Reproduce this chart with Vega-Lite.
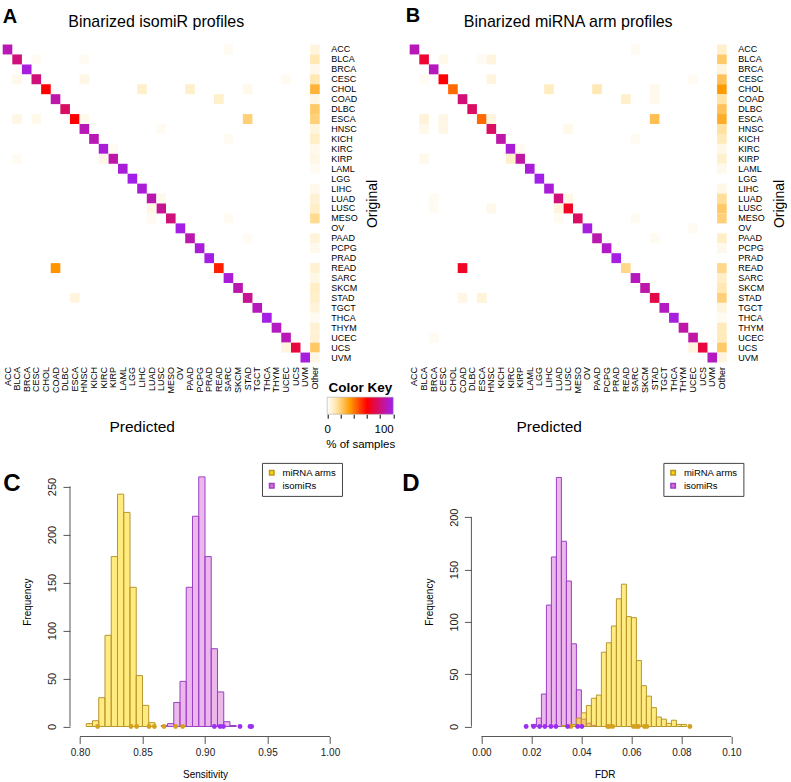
{
"$schema":"https://vega.github.io/schema/vega-lite/v6.json",
"background":"white",
"padding":{"left":2.7,"top":5.5,"right":0,"bottom":0},
"config":{"view":{"stroke":null},"font":"Liberation Sans","axis":{"grid":false,"labelColor":"#000","titleColor":"#000","titleFontWeight":"normal"},"title":{"color":"#000"}},
"title":{"text":"A","anchor":"start","frame":"bounds","fontSize":20,"fontWeight":"bold","dy":25},
"columns":3,
"align":"each",
"bounds":"flush",
"spacing":{"row":34.7,"column":5},
"resolve":{"scale":{"fill":"independent","stroke":"independent"},"legend":{"fill":"independent","stroke":"independent"}},
"datasets":{
"blank":[{"k":1}],
"key":[{"lo":0,"hi":100}],
"heatA":[
{"o":"ACC","p":"ACC","v":90},{"o":"ACC","p":"SARC","v":2},{"o":"ACC","p":"Other","v":5},
{"o":"BLCA","p":"BLCA","v":80},{"o":"BLCA","p":"CESC","v":2},{"o":"BLCA","p":"HNSC","v":2},{"o":"BLCA","p":"Other","v":12},
{"o":"BRCA","p":"BRCA","v":97},{"o":"BRCA","p":"Other","v":3},
{"o":"CESC","p":"CESC","v":80},{"o":"CESC","p":"BLCA","v":3},{"o":"CESC","p":"HNSC","v":4},{"o":"CESC","p":"UCEC","v":2},{"o":"CESC","p":"Other","v":12},
{"o":"CHOL","p":"CHOL","v":60},{"o":"CHOL","p":"LIHC","v":8},{"o":"CHOL","p":"PAAD","v":8},{"o":"CHOL","p":"STAD","v":3},{"o":"CHOL","p":"Other","v":28},
{"o":"COAD","p":"COAD","v":88},{"o":"COAD","p":"READ","v":8},{"o":"COAD","p":"Other","v":4},
{"o":"DLBC","p":"DLBC","v":76},{"o":"DLBC","p":"Other","v":22},
{"o":"ESCA","p":"ESCA","v":60},{"o":"ESCA","p":"BLCA","v":4},{"o":"ESCA","p":"CESC","v":3},{"o":"ESCA","p":"HNSC","v":3},{"o":"ESCA","p":"STAD","v":20},{"o":"ESCA","p":"Other","v":20},
{"o":"HNSC","p":"HNSC","v":90},{"o":"HNSC","p":"LUSC","v":2},{"o":"HNSC","p":"Other","v":5},
{"o":"KICH","p":"KICH","v":90},{"o":"KICH","p":"SARC","v":2},{"o":"KICH","p":"Other","v":9},
{"o":"KIRC","p":"KIRC","v":96},{"o":"KIRC","p":"KIRP","v":2},{"o":"KIRC","p":"Other","v":3},
{"o":"KIRP","p":"KIRP","v":88},{"o":"KIRP","p":"BLCA","v":2},{"o":"KIRP","p":"KIRC","v":4},{"o":"KIRP","p":"Other","v":4},
{"o":"LAML","p":"LAML","v":96},{"o":"LAML","p":"Other","v":2},
{"o":"LGG","p":"LGG","v":99},
{"o":"LIHC","p":"LIHC","v":96},{"o":"LIHC","p":"Other","v":3},
{"o":"LUAD","p":"LUAD","v":89},{"o":"LUAD","p":"LUSC","v":3},{"o":"LUAD","p":"Other","v":7},
{"o":"LUSC","p":"LUSC","v":84},{"o":"LUSC","p":"LUAD","v":4},{"o":"LUSC","p":"Other","v":9},
{"o":"MESO","p":"MESO","v":80},{"o":"MESO","p":"LUAD","v":2},{"o":"MESO","p":"SARC","v":2},{"o":"MESO","p":"Other","v":17},
{"o":"OV","p":"OV","v":98},
{"o":"PAAD","p":"PAAD","v":89},{"o":"PAAD","p":"STAD","v":2},{"o":"PAAD","p":"Other","v":6},
{"o":"PCPG","p":"PCPG","v":96},{"o":"PCPG","p":"Other","v":3},
{"o":"PRAD","p":"PRAD","v":98},
{"o":"READ","p":"READ","v":55},{"o":"READ","p":"COAD","v":36},{"o":"READ","p":"Other","v":7},
{"o":"SARC","p":"SARC","v":96},{"o":"SARC","p":"Other","v":4},
{"o":"SKCM","p":"SKCM","v":89},{"o":"SKCM","p":"Other","v":9},
{"o":"STAD","p":"STAD","v":84},{"o":"STAD","p":"ESCA","v":5},{"o":"STAD","p":"Other","v":8},
{"o":"TGCT","p":"TGCT","v":91},{"o":"TGCT","p":"Other","v":6},
{"o":"THCA","p":"THCA","v":98},{"o":"THCA","p":"Other","v":2},
{"o":"THYM","p":"THYM","v":92},{"o":"THYM","p":"Other","v":7},
{"o":"UCEC","p":"UCEC","v":90},{"o":"UCEC","p":"Other","v":7},
{"o":"UCS","p":"UCS","v":70},{"o":"UCS","p":"UCEC","v":5},{"o":"UCS","p":"Other","v":22},
{"o":"UVM","p":"UVM","v":97},{"o":"UVM","p":"Other","v":4}
],
"heatB":[
{"o":"ACC","p":"ACC","v":90},{"o":"ACC","p":"SARC","v":2},{"o":"ACC","p":"Other","v":8},
{"o":"BLCA","p":"BLCA","v":68},{"o":"BLCA","p":"CESC","v":3},{"o":"BLCA","p":"ESCA","v":2},{"o":"BLCA","p":"HNSC","v":5},{"o":"BLCA","p":"Other","v":22},
{"o":"BRCA","p":"BRCA","v":91},{"o":"BRCA","p":"Other","v":5},
{"o":"CESC","p":"CESC","v":61},{"o":"CESC","p":"BLCA","v":2},{"o":"CESC","p":"HNSC","v":5},{"o":"CESC","p":"UCEC","v":2},{"o":"CESC","p":"Other","v":24},
{"o":"CHOL","p":"CHOL","v":43},{"o":"CHOL","p":"LIHC","v":10},{"o":"CHOL","p":"PAAD","v":12},{"o":"CHOL","p":"STAD","v":3},{"o":"CHOL","p":"Other","v":35},
{"o":"COAD","p":"COAD","v":79},{"o":"COAD","p":"READ","v":8},{"o":"COAD","p":"STAD","v":3},{"o":"COAD","p":"Other","v":14},
{"o":"DLBC","p":"DLBC","v":76},{"o":"DLBC","p":"Other","v":24},
{"o":"ESCA","p":"ESCA","v":43},{"o":"ESCA","p":"BLCA","v":6},{"o":"ESCA","p":"CESC","v":4},{"o":"ESCA","p":"HNSC","v":5},{"o":"ESCA","p":"STAD","v":25},{"o":"ESCA","p":"Other","v":30},
{"o":"HNSC","p":"HNSC","v":76},{"o":"HNSC","p":"BLCA","v":3},{"o":"HNSC","p":"CESC","v":4},{"o":"HNSC","p":"LUSC","v":3},{"o":"HNSC","p":"Other","v":15},
{"o":"KICH","p":"KICH","v":88},{"o":"KICH","p":"SARC","v":2},{"o":"KICH","p":"Other","v":11},
{"o":"KIRC","p":"KIRC","v":96},{"o":"KIRC","p":"KIRP","v":2},{"o":"KIRC","p":"Other","v":4},
{"o":"KIRP","p":"KIRP","v":87},{"o":"KIRP","p":"BLCA","v":3},{"o":"KIRP","p":"KIRC","v":8},{"o":"KIRP","p":"Other","v":8},
{"o":"LAML","p":"LAML","v":96},{"o":"LAML","p":"Other","v":3},
{"o":"LGG","p":"LGG","v":99},
{"o":"LIHC","p":"LIHC","v":96},{"o":"LIHC","p":"Other","v":4},
{"o":"LUAD","p":"LUAD","v":80},{"o":"LUAD","p":"BRCA","v":2},{"o":"LUAD","p":"LUSC","v":4},{"o":"LUAD","p":"Other","v":16},
{"o":"LUSC","p":"LUSC","v":66},{"o":"LUSC","p":"BRCA","v":2},{"o":"LUSC","p":"HNSC","v":3},{"o":"LUSC","p":"LUAD","v":5},{"o":"LUSC","p":"Other","v":22},
{"o":"MESO","p":"MESO","v":76},{"o":"MESO","p":"LUAD","v":2},{"o":"MESO","p":"SARC","v":2},{"o":"MESO","p":"Other","v":20},
{"o":"OV","p":"OV","v":97},{"o":"OV","p":"UCEC","v":2},
{"o":"PAAD","p":"PAAD","v":89},{"o":"PAAD","p":"STAD","v":2},{"o":"PAAD","p":"Other","v":9},
{"o":"PCPG","p":"PCPG","v":93},{"o":"PCPG","p":"Other","v":3},
{"o":"PRAD","p":"PRAD","v":98},
{"o":"READ","p":"READ","v":18},{"o":"READ","p":"COAD","v":66},{"o":"READ","p":"Other","v":18},
{"o":"SARC","p":"SARC","v":91},{"o":"SARC","p":"Other","v":9},
{"o":"SKCM","p":"SKCM","v":88},{"o":"SKCM","p":"Other","v":12},
{"o":"STAD","p":"STAD","v":72},{"o":"STAD","p":"COAD","v":4},{"o":"STAD","p":"ESCA","v":6},{"o":"STAD","p":"Other","v":20},
{"o":"TGCT","p":"TGCT","v":92},{"o":"TGCT","p":"Other","v":5},
{"o":"THCA","p":"THCA","v":97},{"o":"THCA","p":"Other","v":2},
{"o":"THYM","p":"THYM","v":88},{"o":"THYM","p":"Other","v":11},
{"o":"UCEC","p":"UCEC","v":87},{"o":"UCEC","p":"BRCA","v":2},{"o":"UCEC","p":"Other","v":11},
{"o":"UCS","p":"UCS","v":70},{"o":"UCS","p":"UCEC","v":5},{"o":"UCS","p":"Other","v":22},
{"o":"UVM","p":"UVM","v":92},{"o":"UVM","p":"Other","v":5}
],
"histC":[
{"g":"isomiRs","x0":0.865,"x1":0.87,"n":1},{"g":"isomiRs","x0":0.87,"x1":0.875,"n":3},{"g":"isomiRs","x0":0.875,"x1":0.88,"n":25},{"g":"isomiRs","x0":0.88,"x1":0.885,"n":47},{"g":"isomiRs","x0":0.885,"x1":0.89,"n":145},{"g":"isomiRs","x0":0.89,"x1":0.895,"n":219},{"g":"isomiRs","x0":0.895,"x1":0.9,"n":260},{"g":"isomiRs","x0":0.9,"x1":0.905,"n":177},{"g":"isomiRs","x0":0.905,"x1":0.91,"n":81},{"g":"isomiRs","x0":0.91,"x1":0.915,"n":36},{"g":"isomiRs","x0":0.915,"x1":0.92,"n":5},{"g":"isomiRs","x0":0.92,"x1":0.925,"n":1},
{"g":"miRNA arms","x0":0.805,"x1":0.81,"n":3},{"g":"miRNA arms","x0":0.81,"x1":0.815,"n":6},{"g":"miRNA arms","x0":0.815,"x1":0.82,"n":30},{"g":"miRNA arms","x0":0.82,"x1":0.825,"n":95},{"g":"miRNA arms","x0":0.825,"x1":0.83,"n":177},{"g":"miRNA arms","x0":0.83,"x1":0.835,"n":242},{"g":"miRNA arms","x0":0.835,"x1":0.84,"n":223},{"g":"miRNA arms","x0":0.84,"x1":0.845,"n":145},{"g":"miRNA arms","x0":0.845,"x1":0.85,"n":53},{"g":"miRNA arms","x0":0.85,"x1":0.855,"n":22},{"g":"miRNA arms","x0":0.855,"x1":0.86,"n":4}
],
"ptsC":[
{"g":"miRNA arms","x":0.8141},{"g":"miRNA arms","x":0.8408},{"g":"miRNA arms","x":0.8453},{"g":"miRNA arms","x":0.8552},{"g":"miRNA arms","x":0.8595},{"g":"miRNA arms","x":0.8672},{"g":"miRNA arms","x":0.8765},{"g":"miRNA arms","x":0.8821},
{"g":"isomiRs","x":0.9075},{"g":"isomiRs","x":0.912},{"g":"isomiRs","x":0.9147},{"g":"isomiRs","x":0.928},{"g":"isomiRs","x":0.936},{"g":"isomiRs","x":0.9373}
],
"histD":[
{"g":"isomiRs","x0":0.020,"x1":0.022,"n":2},{"g":"isomiRs","x0":0.022,"x1":0.024,"n":8},{"g":"isomiRs","x0":0.024,"x1":0.026,"n":31},{"g":"isomiRs","x0":0.026,"x1":0.028,"n":116},{"g":"isomiRs","x0":0.028,"x1":0.030,"n":162},{"g":"isomiRs","x0":0.030,"x1":0.032,"n":238},{"g":"isomiRs","x0":0.032,"x1":0.034,"n":177},{"g":"isomiRs","x0":0.034,"x1":0.036,"n":139},{"g":"isomiRs","x0":0.036,"x1":0.038,"n":79},{"g":"isomiRs","x0":0.038,"x1":0.040,"n":35},{"g":"isomiRs","x0":0.040,"x1":0.042,"n":7},{"g":"isomiRs","x0":0.042,"x1":0.044,"n":3},{"g":"isomiRs","x0":0.044,"x1":0.046,"n":1},
{"g":"miRNA arms","x0":0.032,"x1":0.034,"n":1},{"g":"miRNA arms","x0":0.034,"x1":0.036,"n":1},{"g":"miRNA arms","x0":0.036,"x1":0.038,"n":2},{"g":"miRNA arms","x0":0.038,"x1":0.040,"n":8},{"g":"miRNA arms","x0":0.040,"x1":0.042,"n":13},{"g":"miRNA arms","x0":0.042,"x1":0.044,"n":20},{"g":"miRNA arms","x0":0.044,"x1":0.046,"n":27},{"g":"miRNA arms","x0":0.046,"x1":0.048,"n":30},{"g":"miRNA arms","x0":0.048,"x1":0.050,"n":71},{"g":"miRNA arms","x0":0.050,"x1":0.052,"n":80},{"g":"miRNA arms","x0":0.052,"x1":0.054,"n":96},{"g":"miRNA arms","x0":0.054,"x1":0.056,"n":122},{"g":"miRNA arms","x0":0.056,"x1":0.058,"n":136},{"g":"miRNA arms","x0":0.058,"x1":0.060,"n":105},{"g":"miRNA arms","x0":0.060,"x1":0.062,"n":104},{"g":"miRNA arms","x0":0.062,"x1":0.064,"n":63},{"g":"miRNA arms","x0":0.064,"x1":0.066,"n":39},{"g":"miRNA arms","x0":0.066,"x1":0.068,"n":29},{"g":"miRNA arms","x0":0.068,"x1":0.070,"n":18},{"g":"miRNA arms","x0":0.070,"x1":0.072,"n":9},{"g":"miRNA arms","x0":0.072,"x1":0.074,"n":7},{"g":"miRNA arms","x0":0.074,"x1":0.076,"n":3},{"g":"miRNA arms","x0":0.076,"x1":0.078,"n":6},{"g":"miRNA arms","x0":0.078,"x1":0.080,"n":2},{"g":"miRNA arms","x0":0.080,"x1":0.082,"n":2}
],
"ptsD":[
{"g":"isomiRs","x":0.0179},{"g":"isomiRs","x":0.0209},{"g":"isomiRs","x":0.0233},{"g":"isomiRs","x":0.0254},{"g":"isomiRs","x":0.0278},{"g":"isomiRs","x":0.0298},{"g":"isomiRs","x":0.0345},{"g":"isomiRs","x":0.0385},{"g":"isomiRs","x":0.0402},
{"g":"miRNA arms","x":0.0358},{"g":"miRNA arms","x":0.0505},{"g":"miRNA arms","x":0.0512},{"g":"miRNA arms","x":0.0525},{"g":"miRNA arms","x":0.0608},{"g":"miRNA arms","x":0.0619},{"g":"miRNA arms","x":0.0628},{"g":"miRNA arms","x":0.0652},{"g":"miRNA arms","x":0.0662},{"g":"miRNA arms","x":0.0834}
]
},
"concat":[
{"data":{"name":"heatA"},"width":317,"height":318,
 "title":{"text":"Binarized isomiR profiles","anchor":"middle","frame":"group","fontSize":16,"fontWeight":"normal","offset":15,"dx":-5},
 "mark":{"type":"rect"},
 "encoding":{
  "x":{"field":"p","type":"nominal","scale":{"domain":["ACC","BLCA","BRCA","CESC","CHOL","COAD","DLBC","ESCA","HNSC","KICH","KIRC","KIRP","LAML","LGG","LIHC","LUAD","LUSC","MESO","OV","PAAD","PCPG","PRAD","READ","SARC","SKCM","STAD","TGCT","THCA","THYM","UCEC","UCS","UVM","Other"],"paddingInner":0,"paddingOuter":0},
       "axis":{"orient":"bottom","labelAngle":270,"labelFontSize":9,"ticks":false,"domain":false,"labelPadding":4,"title":"Predicted","titleFontSize":15.5,"titleX":139,"titleY":64,"titleBaseline":"middle","titleAlign":"center"}},
  "y":{"field":"o","type":"nominal","scale":{"domain":["ACC","BLCA","BRCA","CESC","CHOL","COAD","DLBC","ESCA","HNSC","KICH","KIRC","KIRP","LAML","LGG","LIHC","LUAD","LUSC","MESO","OV","PAAD","PCPG","PRAD","READ","SARC","SKCM","STAD","TGCT","THCA","THYM","UCEC","UCS","UVM"],"paddingInner":0,"paddingOuter":0},
       "axis":{"orient":"right","labelFontSize":9,"ticks":false,"domain":false,"labelPadding":11,"title":"Original","titleFontSize":14,"titleAngle":270,"titleBaseline":"top","titlePadding":8}},
  "color":{"field":"v","type":"quantitative","scale":{"domain":[0,15,35,60,80,100],"range":["#FFFFFF","#FFE2A0","#FF9A00","#FF0000","#D0107A","#A020F0"],"interpolate":"rgb"},"legend":null}
 }},
{"data":{"name":"blank"},"mark":{"type":"point","opacity":0},"width":5.1,"height":1,
 "title":{"text":"B","anchor":"start","frame":"group","fontSize":20,"fontWeight":"bold","offset":16,"dx":7}},
{"data":{"name":"heatB"},"width":317,"height":318,
 "title":{"text":"Binarized miRNA arm profiles","anchor":"middle","frame":"group","fontSize":16,"fontWeight":"normal","offset":15},
 "mark":{"type":"rect"},
 "encoding":{
  "x":{"field":"p","type":"nominal","scale":{"domain":["ACC","BLCA","BRCA","CESC","CHOL","COAD","DLBC","ESCA","HNSC","KICH","KIRC","KIRP","LAML","LGG","LIHC","LUAD","LUSC","MESO","OV","PAAD","PCPG","PRAD","READ","SARC","SKCM","STAD","TGCT","THCA","THYM","UCEC","UCS","UVM","Other"],"paddingInner":0,"paddingOuter":0},
       "axis":{"orient":"bottom","labelAngle":270,"labelFontSize":9,"ticks":false,"domain":false,"labelPadding":4,"title":"Predicted","titleFontSize":15.5,"titleX":139,"titleY":64,"titleBaseline":"middle","titleAlign":"center"}},
  "y":{"field":"o","type":"nominal","scale":{"domain":["ACC","BLCA","BRCA","CESC","CHOL","COAD","DLBC","ESCA","HNSC","KICH","KIRC","KIRP","LAML","LGG","LIHC","LUAD","LUSC","MESO","OV","PAAD","PCPG","PRAD","READ","SARC","SKCM","STAD","TGCT","THCA","THYM","UCEC","UCS","UVM"],"paddingInner":0,"paddingOuter":0},
       "axis":{"orient":"right","labelFontSize":9,"ticks":false,"domain":false,"labelPadding":11,"title":"Original","titleFontSize":14,"titleAngle":270,"titleBaseline":"top","titlePadding":8}},
  "color":{"field":"v","type":"quantitative","scale":{"domain":[0,15,35,60,80,100],"range":["#FFFFFF","#FFE2A0","#FF9A00","#FF0000","#D0107A","#A020F0"],"interpolate":"rgb"},"legend":null}
 }},
{"data":{"name":"key"},"width":390.5,"height":17,
 "title":{"text":"Color Key","anchor":"end","frame":"group","fontSize":13.5,"fontWeight":"bold","offset":2,"dx":-1},
 "mark":{"type":"rect","stroke":"#999","strokeWidth":0.5,"color":{"gradient":"linear","x1":0,"x2":1,"y1":0,"y2":0,"stops":[{"offset":0,"color":"#FFFFFF"},{"offset":0.15,"color":"#FFE2A0"},{"offset":0.35,"color":"#FF9A00"},{"offset":0.6,"color":"#FF0000"},{"offset":0.8,"color":"#D0107A"},{"offset":1,"color":"#A020F0"}]}},
 "encoding":{
  "x":{"field":"lo","type":"quantitative","scale":{"domain":[-491.67,100],"nice":false,"zero":false},
       "axis":{"values":[0,20,40,60,80,100],"labelExpr":"datum.value==0||datum.value==100 ? datum.label : ''","labelAlign":{"condition":{"test":"datum.value==100","value":"right"},"value":"center"},"labelOverlap":false,"labelFlush":false,"domain":false,"tickSize":4,"tickColor":"#000","labelFontSize":11.5,"labelPadding":5,"title":"% of samples","titleFontSize":11.5,"titleX":357.5,"titleAlign":"center","titlePadding":4}},
  "x2":{"field":"hi"}
 }},
{"data":{"name":"blank"},"mark":{"type":"point","opacity":0},"width":1,"height":1},
{"data":{"name":"blank"},"mark":{"type":"point","opacity":0},"width":1,"height":34.7},
{"width":337.3,"height":269.6,
 "title":{"text":"C","anchor":"start","frame":"group","fontSize":24,"fontWeight":"bold","dx":0.5,"dy":38},
 "layer":[
  {"data":{"name":"histC"},"mark":{"type":"rect","fillOpacity":0.5,"strokeWidth":1},
   "encoding":{
    "x":{"field":"x0","type":"quantitative","scale":{"domain":[0.73816,1.008],"nice":false,"zero":false},
         "axis":{"values":[0.8,0.85,0.9,0.95,1.0],"format":".2f","domain":false,"tickSize":7,"tickColor":"#555","labelFontSize":10,"labelPadding":4,"labelColor":"#222","title":"Sensitivity","titleFontSize":10,"titlePadding":12,"titleX":202.3,"titleAlign":"center"}},
    "x2":{"field":"x1"},
    "y":{"field":"n","type":"quantitative","scale":{"domain":[-10.42,270.4],"nice":false,"zero":false},
         "axis":{"values":[0,50,100,150,200,250],"offset":-67.3,"domain":false,"tickSize":7,"tickColor":"#555","labelAngle":270,"labelFontSize":11,"labelPadding":5,"labelColor":"#222","title":"Frequency","titleFontSize":10,"titlePadding":14}},
    "y2":{"datum":0},
    "fill":{"field":"g","type":"nominal","scale":{"domain":["miRNA arms","isomiRs"],"range":["#FFD700","#DA70D6"]},
            "legend":{"orient":"none","legendX":259.3,"legendY":-4,"title":null,"strokeColor":"#444","fillColor":"white","padding":5,"labelFontSize":9.5,"symbolType":"square","symbolSize":20,"rowPadding":2,"labelOffset":6,"symbolOpacity":1}},
    "stroke":{"field":"g","type":"nominal","scale":{"domain":["miRNA arms","isomiRs"],"range":["#B8962E","#9B3FC6"]},
            "legend":{"orient":"none","legendX":259.3,"legendY":-4,"title":null,"strokeColor":"#444","fillColor":"white","padding":5,"labelFontSize":9.5,"symbolType":"square","symbolSize":20,"rowPadding":2,"labelOffset":6,"symbolOpacity":1}}
   }},
  {"data":{"name":"ptsC"},"transform":[{"filter":"datum.g=='miRNA arms'"}],"mark":{"type":"circle","size":24,"color":"#D4A020","opacity":1},
   "encoding":{"x":{"field":"x","type":"quantitative"},"y":{"datum":0}}},
  {"data":{"name":"ptsC"},"transform":[{"filter":"datum.g=='isomiRs'"}],"mark":{"type":"circle","size":24,"color":"#9B30F0","opacity":1},
   "encoding":{"x":{"field":"x","type":"quantitative"},"y":{"datum":0}}},
  {"data":{"name":"blank"},"mark":{"type":"rule","color":"#555","strokeWidth":1},
   "encoding":{"x":{"datum":0.8},"x2":{"datum":1.0},"y":{"datum":-10.42}}},
  {"data":{"name":"blank"},"mark":{"type":"rule","color":"#555","strokeWidth":1},
   "encoding":{"x":{"datum":0.792},"y":{"datum":0},"y2":{"datum":250}}}
 ]},
{"data":{"name":"blank"},"mark":{"type":"point","opacity":0},"width":1,"height":1},
{"width":331.7,"height":269.6,
 "title":{"text":"D","anchor":"start","frame":"group","fontSize":24,"fontWeight":"bold","dx":-7.5,"dy":38},
 "layer":[
  {"data":{"name":"histD"},"mark":{"type":"rect","fillOpacity":0.5,"strokeWidth":1},
   "encoding":{
    "x":{"field":"x0","type":"quantitative","scale":{"domain":[-0.02868,0.104],"nice":false,"zero":false},
         "axis":{"values":[0,0.02,0.04,0.06,0.08,0.1],"format":".2f","domain":false,"tickSize":7,"tickColor":"#555","labelFontSize":10,"labelPadding":4,"labelColor":"#222","title":"FDR","titleFontSize":10,"titlePadding":12,"titleX":195,"titleAlign":"center"}},
    "x2":{"field":"x1"},
    "y":{"field":"n","type":"quantitative","scale":{"domain":[-9.56,248.07],"nice":false,"zero":false},
         "axis":{"values":[0,50,100,150,200],"offset":-61.7,"domain":false,"tickSize":7,"tickColor":"#555","labelAngle":270,"labelFontSize":11,"labelPadding":5,"labelColor":"#222","title":"Frequency","titleFontSize":10,"titlePadding":14}},
    "y2":{"datum":0},
    "fill":{"field":"g","type":"nominal","scale":{"domain":["miRNA arms","isomiRs"],"range":["#FFD700","#DA70D6"]},
            "legend":{"orient":"none","legendX":253.7,"legendY":-4,"title":null,"strokeColor":"#444","fillColor":"white","padding":5,"labelFontSize":9.5,"symbolType":"square","symbolSize":20,"rowPadding":2,"labelOffset":6,"symbolOpacity":1}},
    "stroke":{"field":"g","type":"nominal","scale":{"domain":["miRNA arms","isomiRs"],"range":["#B8962E","#9B3FC6"]},
            "legend":{"orient":"none","legendX":253.7,"legendY":-4,"title":null,"strokeColor":"#444","fillColor":"white","padding":5,"labelFontSize":9.5,"symbolType":"square","symbolSize":20,"rowPadding":2,"labelOffset":6,"symbolOpacity":1}}
   }},
  {"data":{"name":"ptsD"},"transform":[{"filter":"datum.g=='miRNA arms'"}],"mark":{"type":"circle","size":24,"color":"#D4A020","opacity":1},
   "encoding":{"x":{"field":"x","type":"quantitative"},"y":{"datum":0}}},
  {"data":{"name":"ptsD"},"transform":[{"filter":"datum.g=='isomiRs'"}],"mark":{"type":"circle","size":24,"color":"#9B30F0","opacity":1},
   "encoding":{"x":{"field":"x","type":"quantitative"},"y":{"datum":0}}},
  {"data":{"name":"blank"},"mark":{"type":"rule","color":"#555","strokeWidth":1},
   "encoding":{"x":{"datum":0},"x2":{"datum":0.1},"y":{"datum":-9.56}}},
  {"data":{"name":"blank"},"mark":{"type":"rule","color":"#555","strokeWidth":1},
   "encoding":{"x":{"datum":-0.004},"y":{"datum":0},"y2":{"datum":200}}}
 ]}
]
}
